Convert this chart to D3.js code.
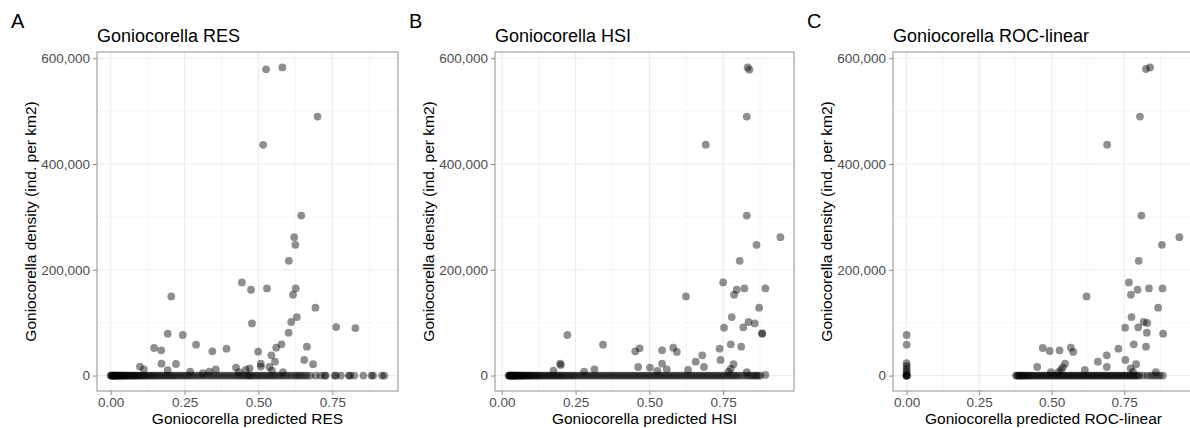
<!DOCTYPE html>
<html>
<head>
<meta charset="utf-8">
<script src="https://cdn.jsdelivr.net/npm/d3@7"></script>
<style>
  body { margin: 0; background: #fff; }
  svg { display: block; font-family: "Liberation Sans", Arial, sans-serif; }
</style>
</head>
<body>
<div id="canvas"></div>
<script>
// ---- data ----
// panel A : RES
var resX = [0.526,0.581,0.700,0.516,0.645,0.621,0.625,0.603,0.444,0.475,0.529,0.626,0.617,0.205,0.693,0.630,0.611,0.478,0.763,0.828,0.602,0.193,0.244,0.578,0.289,0.664,0.560,0.147,0.171,0.392,0.344,0.499,0.544,0.655,0.556,0.172,0.221,0.508,0.685,0.099,0.112,0.424,0.470,0.457,0.508,0.537,0.193,0.269,0.356,0.334,0.434,0.546,0.583,0.312];
var resY = [578900,582600,489600,436200,302500,261600,247200,217000,176100,162300,164800,164800,152800,149700,128300,110700,101300,98700,91800,89900,81100,79200,76700,59100,58500,54700,52800,52200,47800,50900,45900,45300,38400,29600,26400,22600,22000,22600,21400,17000,11900,15100,13800,10700,17000,16400,10100,7500,11900,7500,6300,9400,6300,4400];
var resZero = [0.000,0.002,0.004,0.006,0.008,0.010,0.012,0.014,0.016,0.018,0.020,0.023,0.026,0.029,0.032,0.035,0.038,0.041,0.044,0.047,0.050,0.054,0.058,0.062,0.066,0.070,0.074,0.078,0.082,0.086,0.090,0.095,0.100,0.105,0.110,0.115,0.120,0.126,0.132,0.138,0.144,0.150,0.157,0.164,0.171,0.178,0.185,0.192,0.199,0.206,0.213,0.220,0.228,0.236,0.244,0.252,0.260,0.268,0.276,0.285,0.294,0.303,0.312,0.321,0.330,0.339,0.348,0.357,0.366,0.375,0.384,0.393,0.402,0.411,0.420,0.428,0.436,0.444,0.452,0.460,0.466,0.472,0.478,0.486,0.494,0.502,0.510,0.518,0.526,0.534,0.542,0.550,0.558,0.566,0.575,0.584,0.593,0.602,0.612,0.622,0.630,0.638,0.646,0.655,0.664,0.675,0.694,0.711,0.724,0.728,0.758,0.762,0.779,0.806,0.810,0.824,0.855,0.883,0.888,0.918,0.926];

// panel B : HSI
var hsiX = [0.833,0.839,0.830,0.691,0.830,0.944,0.863,0.806,0.750,0.796,0.787,0.822,0.893,0.624,0.872,0.779,0.836,0.857,0.753,0.818,0.882,0.882,0.222,0.343,0.776,0.811,0.738,0.581,0.593,0.467,0.452,0.543,0.679,0.741,0.657,0.543,0.198,0.200,0.785,0.462,0.502,0.685,0.559,0.631,0.314,0.175,0.279,0.776,0.768,0.527,0.830,0.893];
var hsiY = [582600,578300,489600,436500,302500,261600,247200,217000,176100,162300,152800,164800,164800,149700,128300,110700,101300,98700,90600,91200,79900,79200,76700,58500,59100,54700,50900,52800,44700,51600,45900,47800,38400,29600,26400,22600,22600,20100,21400,16400,15100,16400,11900,10700,11900,9400,7500,12600,7500,8800,6300,1300];
var hsiZero = [0.023,0.025,0.027,0.029,0.031,0.033,0.035,0.037,0.039,0.041,0.043,0.045,0.048,0.051,0.054,0.057,0.060,0.063,0.066,0.069,0.072,0.076,0.080,0.084,0.088,0.092,0.096,0.100,0.105,0.110,0.115,0.120,0.125,0.130,0.136,0.142,0.148,0.154,0.160,0.166,0.172,0.178,0.184,0.190,0.196,0.202,0.208,0.215,0.222,0.229,0.236,0.243,0.250,0.258,0.266,0.274,0.282,0.290,0.298,0.306,0.314,0.322,0.330,0.338,0.346,0.354,0.362,0.370,0.378,0.386,0.394,0.402,0.410,0.418,0.426,0.434,0.442,0.450,0.458,0.466,0.474,0.482,0.490,0.498,0.506,0.514,0.522,0.530,0.538,0.546,0.554,0.562,0.570,0.578,0.586,0.594,0.602,0.610,0.618,0.626,0.634,0.642,0.650,0.658,0.666,0.674,0.682,0.690,0.698,0.706,0.714,0.722,0.730,0.738,0.746,0.754,0.762,0.770,0.778,0.786,0.794,0.802,0.812,0.822,0.832,0.840,0.848,0.856,0.862,0.868,0.876];

// panel C : ROC-linear
var rocX = [0.825,0.839,0.804,0.691,0.809,0.940,0.880,0.800,0.766,0.796,0.835,0.882,0.773,0.620,0.867,0.775,0.817,0.829,0.753,0.798,0.828,0.884,0.783,0.825,0.730,0.469,0.493,0.527,0.566,0.574,0.690,0.754,0.659,0.546,0.791,0.450,0.690,0.538,0.532,0.614,0.772,0.780,0.859,0.523,0.497,0.000,0.000,0.000,0.000,0.000,0.000,0.000];
var rocY = [579600,582600,489600,436500,302500,261600,247200,217000,176100,162300,164800,164800,152800,149700,128300,110700,101300,99400,90600,91200,81100,79200,59100,54700,50900,52200,46500,47800,52800,44700,38400,29600,26400,22600,21400,16400,16400,15700,10700,10700,13800,7500,6300,6300,6300,76700,58500,23300,18200,13200,8800,4400];
var rocZero = [0.000,0.000,0.000,0.000,0.377,0.381,0.385,0.389,0.393,0.397,0.401,0.405,0.410,0.415,0.420,0.425,0.430,0.436,0.442,0.448,0.454,0.460,0.466,0.472,0.478,0.484,0.490,0.496,0.502,0.508,0.514,0.520,0.526,0.532,0.538,0.544,0.550,0.556,0.562,0.568,0.574,0.580,0.586,0.592,0.598,0.604,0.610,0.616,0.622,0.628,0.634,0.640,0.646,0.652,0.658,0.664,0.670,0.676,0.682,0.688,0.694,0.700,0.706,0.712,0.718,0.724,0.730,0.736,0.742,0.748,0.754,0.760,0.766,0.772,0.778,0.784,0.790,0.796,0.802,0.815,0.830,0.842,0.852,0.862,0.872,0.883];

var xTicks = [0, 0.25, 0.5, 0.75];
var xMinor = [0.125, 0.375, 0.625, 0.875];
var yTicks = [0, 200000, 400000, 600000];
var yMinor = [100000, 300000, 500000];

var panelLabels = ["A", "B", "C"];
var titles = ["Goniocorella RES", "Goniocorella HSI", "Goniocorella ROC-linear"];
var xTitles = ["Goniocorella predicted RES", "Goniocorella predicted HSI", "Goniocorella predicted ROC-linear"];
var yTitle = "Goniocorella density (ind. per km2)";

var _width = 1190, _height = 428;
var _top = 52, _bottom = 391;
var _lefts = [97, 495, 893], _rights = [398, 794, 1193];

var svg = d3.select("#canvas").append("svg")
    .attr("width", _width)
    .attr("height", _height);

function pad(ext) {
    var d = ext[1] - ext[0];
    return [ext[0] - 0.05 * d, ext[1] + 0.05 * d];
}

function drawPanel(i, xs, ys, zeros) {
    var left = _lefts[i], right = _rights[i];
    var pts = xs.map(function (v, k) { return {x: v, y: ys[k]}; })
        .concat(zeros.map(function (v) { return {x: v, y: 0}; }));

    var x = d3.scaleLinear().domain(pad(d3.extent(pts, function (d) { return d.x; }))).range([left, right]);
    var y = d3.scaleLinear().domain(pad([0, d3.max(pts, function (d) { return d.y; })])).range([_bottom, _top]);

    var g = svg.append("g");

    // minor + major grid
    g.selectAll(".xmin").data(xMinor.filter(function (d) { return x(d) < right; })).enter().append("line")
        .attr("x1", function (d) { return x(d); }).attr("x2", function (d) { return x(d); })
        .attr("y1", _top).attr("y2", _bottom)
        .style("stroke", "#f2f2f2").style("stroke-width", "0.8");
    g.selectAll(".ymin").data(yMinor).enter().append("line")
        .attr("x1", left).attr("x2", right)
        .attr("y1", function (d) { return y(d); }).attr("y2", function (d) { return y(d); })
        .style("stroke", "#f2f2f2").style("stroke-width", "0.8");
    g.selectAll(".xmaj").data(xTicks).enter().append("line")
        .attr("x1", function (d) { return x(d); }).attr("x2", function (d) { return x(d); })
        .attr("y1", _top).attr("y2", _bottom)
        .style("stroke", "#ebebeb").style("stroke-width", "1.1");
    g.selectAll(".ymaj").data(yTicks).enter().append("line")
        .attr("x1", left).attr("x2", right)
        .attr("y1", function (d) { return y(d); }).attr("y2", function (d) { return y(d); })
        .style("stroke", "#ebebeb").style("stroke-width", "1.1");

    // points
    g.selectAll("circle").data(pts).enter().append("circle")
        .attr("cx", function (d) { return x(d.x); })
        .attr("cy", function (d) { return y(d.y); })
        .attr("r", 3.9)
        .style("fill", "#000")
        .style("fill-opacity", 0.44);

    // border
    g.append("rect")
        .attr("x", left).attr("y", _top)
        .attr("width", right - left).attr("height", _bottom - _top)
        .style("fill", "none").style("stroke", "#9a9a9a").style("stroke-width", "1.1");

    // axes
    var ax = g.append("g").attr("transform", "translate(0," + _bottom + ")")
        .call(d3.axisBottom(x).tickValues(xTicks).tickFormat(d3.format(".2f")).tickSize(4).tickPadding(2));
    var ay = g.append("g").attr("transform", "translate(" + left + ",0)")
        .call(d3.axisLeft(y).tickValues(yTicks).tickFormat(d3.format(",")).tickSize(4).tickPadding(3));
    [ax, ay].forEach(function (a) {
        a.select(".domain").remove();
        a.selectAll(".tick line").style("stroke", "#8a8a8a");
        a.selectAll(".tick text").style("fill", "#4d4d4d").style("font-size", "13.5px")
            .style("font-family", "'Liberation Sans', Arial, sans-serif");
    });

    // texts
    g.append("text").text(xTitles[i])
        .attr("x", (left + Math.min(right, _width)) / 2 + (i == 2 ? 2 : 0)).attr("y", 423.5)
        .attr("text-anchor", "middle").style("font-size", "15.5px").style("fill", "#000");
    g.append("text").text(yTitle)
        .attr("transform", "translate(" + (left - 61) + "," + ((_top + _bottom) / 2) + ") rotate(-90)")
        .attr("text-anchor", "middle").style("font-size", "15.5px").style("fill", "#000");
    g.append("text").text(titles[i])
        .attr("x", left).attr("y", 42)
        .style("font-size", "18px").style("fill", "#000");
    g.append("text").text(panelLabels[i])
        .attr("x", left - 86).attr("y", 28)
        .style("font-size", "20px").style("fill", "#000");
}

drawPanel(0, resX, resY, resZero);
drawPanel(1, hsiX, hsiY, hsiZero);
drawPanel(2, rocX, rocY, rocZero);
</script>
</body>
</html>
